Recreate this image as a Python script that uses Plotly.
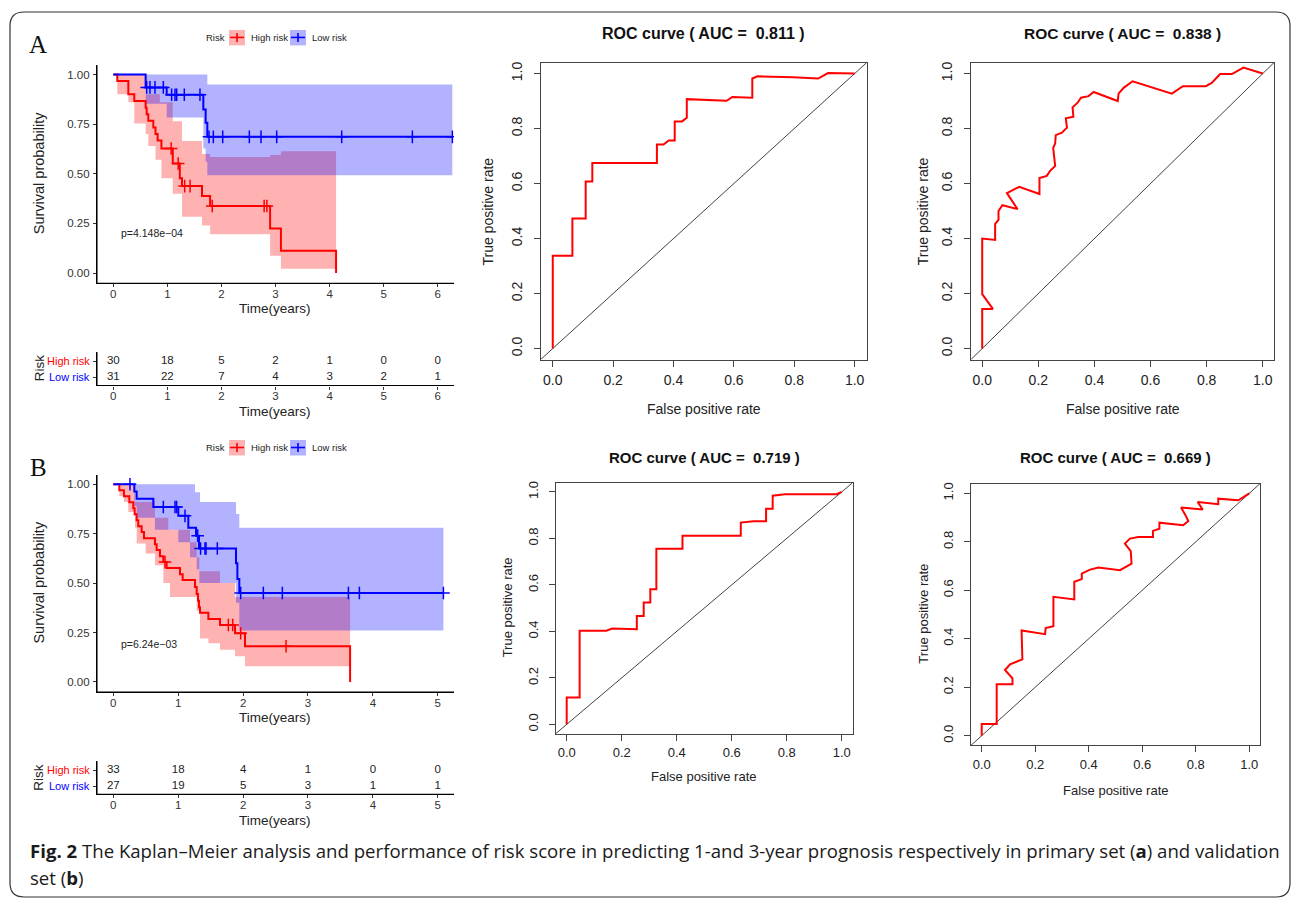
import plotly.graph_objects as go

W, H = 1292, 900

# ------------------------------------------------------------------ data
# Kaplan-Meier, primary set (A)
kmA_high_t = [0.074, 0.278, 0.388, 0.598, 0.617, 0.647, 0.74, 0.78, 0.82, 0.89, 1.10, 1.23, 1.27, 1.64, 1.79, 2.90, 3.10, 4.12]
kmA_high_s = [0.967, 0.90, 0.867, 0.833, 0.80, 0.767, 0.733, 0.70, 0.667, 0.627, 0.552, 0.477, 0.438, 0.388, 0.338, 0.224, 0.112, 0.0]
kmA_high_end = 4.12
kmA_high_cens = [1.07, 1.20, 1.32, 1.42, 1.83, 2.79, 2.84]
kmA_high_band_t = [0, 0.074, 0.278, 0.388, 0.598, 0.647, 0.78, 0.86, 0.89, 1.10, 1.27, 1.64, 1.79, 2.90, 3.10]
kmA_high_band_lo = [1.0, 0.90, 0.86, 0.753, 0.70, 0.64, 0.57, 0.57, 0.477, 0.40, 0.284, 0.24, 0.196, 0.087, 0.022]
kmA_high_band_hi = [1.0, 1.0, 1.0, 1.0, 0.90, 0.90, 0.90, 0.86, 0.86, 0.765, 0.665, 0.60, 0.585, 0.595, 0.614]

kmA_low_t = [0.598, 0.987, 1.665, 1.708, 1.739]
kmA_low_s = [0.935, 0.898, 0.824, 0.757, 0.686]
kmA_low_end = 6.27
kmA_low_cens = [0.617, 0.678, 0.771, 0.925, 1.079, 1.141, 1.172, 1.313, 1.603, 1.770, 1.850,
                2.023, 2.516, 2.732, 3.022, 4.224, 5.531, 6.271]
kmA_low_band_t = [0.598, 0.987, 1.665, 1.708, 1.739]
kmA_low_band_lo = [0.853, 0.783, 0.627, 0.56, 0.493]
kmA_low_band_hi = [1.0, 1.0, 1.0, 1.0, 0.95]

# Kaplan-Meier, validation set (B)
kmB_high_t = [0.093, 0.164, 0.247, 0.308, 0.329, 0.36, 0.385, 0.437, 0.473, 0.642, 0.668, 0.719, 0.771,
              0.822, 1.028, 1.069, 1.259, 1.285, 1.305, 1.321, 1.336, 1.465, 1.644, 1.876, 2.030, 3.649]
kmB_high_s = [0.970, 0.939, 0.909, 0.879, 0.848, 0.818, 0.788, 0.758, 0.727, 0.697, 0.667, 0.636, 0.606,
              0.576, 0.545, 0.515, 0.48, 0.445, 0.41, 0.378, 0.35, 0.318, 0.288, 0.246, 0.18, 0.0]
kmB_high_end = 3.649
kmB_high_cens = [0.797, 1.773, 1.840, 1.963, 2.662]
kmB_high_band_t = [0, 0.093, 0.164, 0.231, 0.334, 0.36, 0.498, 0.642, 0.771, 0.848, 0.874, 1.182, 1.285,
                   1.326, 1.336, 1.465, 1.644, 1.876, 2.030]
kmB_high_band_lo = [1.0, 0.94, 0.91, 0.86, 0.78, 0.70, 0.65, 0.59, 0.50, 0.50, 0.43, 0.43, 0.36,
                    0.36, 0.22, 0.196, 0.162, 0.13, 0.079]
kmB_high_band_hi = [1.0, 1.0, 1.0, 1.0, 0.91, 0.91, 0.91, 0.83, 0.83, 0.77, 0.77, 0.707, 0.63,
                    0.56, 0.56, 0.56, 0.50, 0.43, 0.43]

kmB_low_t = [0.324, 0.36, 0.617, 1.002, 1.156, 1.274, 1.321, 1.891, 1.912, 1.942]
kmB_low_s = [0.963, 0.926, 0.885, 0.84, 0.78, 0.74, 0.675, 0.60, 0.52, 0.45]
kmB_low_end = 5.087
kmB_low_cens = [0.257, 0.771, 0.951, 0.976, 1.105, 1.300, 1.345, 1.413, 1.429, 1.603, 1.963, 2.312,
                2.605, 3.623, 3.792, 5.087]
kmB_low_band_t = [0.324, 0.36, 0.642, 1.002, 1.182, 1.259, 1.285, 1.326, 1.336, 1.891, 1.942]
kmB_low_band_lo = [0.89, 0.83, 0.77, 0.707, 0.63, 0.63, 0.57, 0.50, 0.50, 0.40, 0.26]
kmB_low_band_hi = [1.0, 1.0, 1.0, 1.0, 1.0, 0.96, 0.96, 0.96, 0.91, 0.85, 0.78]

# Numbers at risk
riskA_times = [0, 1, 2, 3, 4, 5, 6]
riskA_high = [30, 18, 5, 2, 1, 0, 0]
riskA_low = [31, 22, 7, 4, 3, 2, 1]
riskB_times = [0, 1, 2, 3, 4, 5]
riskB_high = [33, 18, 4, 1, 0, 0]
riskB_low = [27, 19, 5, 3, 1, 1]
risk_labels = ["High risk", "Low risk"]

# ROC curves
roc1_auc = "0.811"
roc1_fpr = [0, 0, 0.065, 0.065, 0.109, 0.109, 0.131, 0.131, 0.345, 0.345, 0.367, 0.384, 0.404, 0.404,
            0.428, 0.444, 0.444, 0.576, 0.595, 0.661, 0.661, 0.678, 0.796, 0.879, 0.912, 1.0]
roc1_tpr = [0, 0.337, 0.337, 0.473, 0.473, 0.607, 0.607, 0.675, 0.675, 0.742, 0.742, 0.757, 0.757, 0.826,
            0.826, 0.839, 0.907, 0.901, 0.915, 0.912, 0.982, 0.99, 0.987, 0.982, 1.002, 1.0]

roc2_auc = "0.838"
roc2_fpr = [0, 0, 0.038, 0, 0, 0.046, 0.046, 0.058, 0.058, 0.072, 0.126, 0.088, 0.132, 0.204, 0.204,
            0.230, 0.242, 0.26, 0.253, 0.26, 0.262, 0.284, 0.302, 0.298, 0.325, 0.322, 0.34, 0.352,
            0.379, 0.397, 0.483, 0.486, 0.504, 0.536, 0.676, 0.715, 0.797, 0.818, 0.848, 0.89, 0.931, 1.0]
roc2_tpr = [0, 0.144, 0.144, 0.198, 0.40, 0.395, 0.453, 0.468, 0.50, 0.521, 0.507, 0.565, 0.588, 0.562,
            0.620, 0.628, 0.646, 0.664, 0.730, 0.746, 0.776, 0.785, 0.803, 0.837, 0.843, 0.877, 0.894,
            0.912, 0.918, 0.933, 0.90, 0.927, 0.948, 0.972, 0.927, 0.954, 0.954, 0.966, 0.998, 0.998,
            1.022, 1.0]

roc3_auc = "0.719"
roc3_fpr = [0, 0, 0.047, 0.047, 0.144, 0.165, 0.255, 0.255, 0.28, 0.28, 0.304, 0.304, 0.326, 0.326,
            0.421, 0.421, 0.633, 0.633, 0.679, 0.725, 0.725, 0.749, 0.749, 0.794, 0.982, 1.0]
roc3_tpr = [0, 0.116, 0.116, 0.403, 0.403, 0.412, 0.409, 0.466, 0.466, 0.524, 0.524, 0.581, 0.581,
            0.756, 0.756, 0.811, 0.811, 0.868, 0.874, 0.874, 0.928, 0.928, 0.984, 0.99, 0.99, 1.0]

roc4_auc = "0.669"
roc4_fpr = [0, 0, 0.056, 0.056, 0.115, 0.115, 0.087, 0.106, 0.152, 0.149, 0.237, 0.239, 0.268, 0.268,
            0.346, 0.346, 0.374, 0.374, 0.405, 0.436, 0.517, 0.56, 0.557, 0.535, 0.554, 0.585, 0.64,
            0.64, 0.664, 0.664, 0.753, 0.772, 0.762, 0.745, 0.826, 0.807, 0.884, 0.884, 0.959, 1.0]
roc4_tpr = [0, 0.048, 0.048, 0.212, 0.212, 0.236, 0.271, 0.294, 0.315, 0.434, 0.419, 0.444, 0.452, 0.573,
            0.562, 0.635, 0.646, 0.669, 0.685, 0.694, 0.683, 0.71, 0.761, 0.793, 0.813, 0.82, 0.82,
            0.845, 0.854, 0.879, 0.868, 0.886, 0.909, 0.941, 0.933, 0.964, 0.955, 0.978, 0.971, 1.0]

caption_line1 = ("<b>Fig. 2</b> The Kaplan–Meier analysis and performance of risk score in predicting "
                 "1-and 3-year prognosis respectively in primary set (<b>a</b>) and validation")
caption_line2 = "set (<b>b</b>)"

# ------------------------------------------------------------------ helpers
RED = "#FF0000"
BLUE = "#0000FF"
RED_FILL = "rgba(255,0,0,0.3)"
BLUE_FILL = "rgba(0,0,255,0.3)"
SANS = "Liberation Sans, Arial, sans-serif"


def px(x):
    return x / W


def py(y):
    return 1 - y / H


def ax_names(i):
    return ("xaxis" if i == 1 else f"xaxis{i}", "yaxis" if i == 1 else f"yaxis{i}",
            "x" if i == 1 else f"x{i}", "y" if i == 1 else f"y{i}")


def step_at(ts, ss, t):
    v = 1.0
    for ti, si in zip(ts, ss):
        if ti <= t:
            v = si
    return v


def band_poly(ts, lo, hi, end):
    xs, ys = [], []
    n = len(ts)
    for i in range(n):
        t1 = ts[i + 1] if i + 1 < n else end
        xs += [ts[i], t1]
        ys += [hi[i], hi[i]]
    for i in reversed(range(n)):
        t1 = ts[i + 1] if i + 1 < n else end
        xs += [t1, ts[i]]
        ys += [lo[i], lo[i]]
    return xs, ys


fig = go.Figure()
layout = dict(
    width=W, height=H, margin=dict(l=0, r=0, t=0, b=0),
    paper_bgcolor="white", plot_bgcolor="rgba(0,0,0,0)",
    showlegend=False, font=dict(family=SANS, color="#222"),
)
annotations = []
shapes = []


def ann(x, y, text, size, color="#222", xanchor="center", angle=0, family=SANS, yanchor="middle"):
    annotations.append(dict(x=px(x), y=py(y), xref="paper", yref="paper", text=text, showarrow=False,
                            xanchor=xanchor, yanchor=yanchor, textangle=angle,
                            font=dict(size=size, color=color, family=family)))


KM_AXIS = dict(showline=True, linecolor="black", linewidth=1.2, mirror=False, ticks="outside", ticklen=3,
               tickwidth=1.1, tickcolor="#333", showgrid=False, zeroline=False, layer="above traces",
               tickfont=dict(size=11.5, color="#333"))


def l_frame(xr_, yr_):
    # ggplot-style left and bottom axis lines along the panel edges
    shapes.append(dict(type="line", xref=f"{xr_} domain", yref=f"{yr_} domain", x0=0, x1=1, y0=0, y1=0,
                       line=dict(color="black", width=1.1)))
    shapes.append(dict(type="line", xref=f"{xr_} domain", yref=f"{yr_} domain", x0=0, x1=0, y0=0, y1=1,
                       line=dict(color="black", width=1.1)))


# ------------------------------------------------------------------ KM panels
def km_panel(i, dom_x, dom_y, xr, xmax, high, low, pval, pval_y, label, label_y, legend_y):
    xa, ya, xr_, yr_ = ax_names(i)
    layout[xa] = dict(domain=[px(dom_x[0]), px(dom_x[1])], range=xr, anchor=yr_,
                      tickvals=list(range(0, xmax + 1)), ticklabelstandoff=-3, **KM_AXIS)
    layout[ya] = dict(domain=[py(dom_y[1]), py(dom_y[0])], range=[-0.052, 1.047], anchor=xr_,
                      tickvals=[0, 0.25, 0.5, 0.75, 1.0], ticktext=["0.00", "0.25", "0.50", "0.75", "1.00"],
                      ticklabelstandoff=1, **KM_AXIS)
    l_frame(xr_, yr_)
    # bands
    for (ts, ss, end, cens, bt, blo, bhi), col, fill in zip([high, low], [RED, BLUE], [RED_FILL, BLUE_FILL]):
        bx, by = band_poly(bt, blo, bhi, end)
        fig.add_trace(go.Scatter(x=bx, y=by, xaxis=xr_, yaxis=yr_, fill="toself", fillcolor=fill,
                                 line=dict(width=0), mode="lines", hoverinfo="skip"))
    for (ts, ss, end, cens, bt, blo, bhi), col in zip([high, low], [RED, BLUE]):
        xs = [0] + list(ts)
        ys = [1.0] + list(ss)
        if end > ts[-1]:
            xs.append(end)
            ys.append(ss[-1])
        fig.add_trace(go.Scatter(x=xs, y=ys, xaxis=xr_, yaxis=yr_, mode="lines",
                                 line=dict(color=col, width=2, shape="hv")))
        fig.add_trace(go.Scatter(x=cens, y=[step_at(ts, ss, c) for c in cens], xaxis=xr_, yaxis=yr_,
                                 mode="markers",
                                 marker=dict(symbol="cross-thin", size=9, line=dict(color=col, width=1.5))))
    ann(119, pval_y, pval, 10.5, color="#222", xanchor="left")
    ann(39, (dom_y[0] + dom_y[1]) / 2 - 1, "Survival probability", 14.5, angle=-90)
    ann(275, dom_y[1] + 25, "Time(years)", 13.5)
    ann(38, label_y, label, 25, color="#111", family="Liberation Serif, DejaVu Serif, serif")
    # legend
    ann(215, legend_y, "Risk", 9.5, color="#222")
    for kx, col, fill, txt in [(229, RED, RED_FILL, "High risk"), (290, BLUE, BLUE_FILL, "Low risk")]:
        shapes.append(dict(type="rect", xref="paper", yref="paper", x0=px(kx), x1=px(kx + 16),
                           y0=py(legend_y + 8), y1=py(legend_y - 7.5), fillcolor=fill, line=dict(width=0)))
        shapes.append(dict(type="line", xref="paper", yref="paper", x0=px(kx + 1), x1=px(kx + 15),
                           y0=py(legend_y), y1=py(legend_y), line=dict(color=col, width=1.6)))
        shapes.append(dict(type="line", xref="paper", yref="paper", x0=px(kx + 8), x1=px(kx + 8),
                           y0=py(legend_y - 4.5), y1=py(legend_y + 4.5), line=dict(color=col, width=1.6)))
        ann(kx + 20, legend_y, txt, 9.5, color="#222", xanchor="left")


def risk_panel(i, dom_x, dom_y, xr, times, high, low, ylab_y):
    xa, ya, xr_, yr_ = ax_names(i)
    layout[xa] = dict(domain=[px(dom_x[0]), px(dom_x[1])], range=xr, anchor=yr_, tickvals=times,
                      ticklabelstandoff=-3, **KM_AXIS)
    layout[ya] = dict(domain=[py(dom_y[1]), py(dom_y[0])], range=[0.48, 2.56], anchor=xr_, tickvals=[1, 2],
                      showticklabels=False, **KM_AXIS)
    l_frame(xr_, yr_)
    fig.add_trace(go.Scatter(x=times, y=[2] * len(times), text=[str(v) for v in high], mode="text",
                             xaxis=xr_, yaxis=yr_, textfont=dict(size=11.5, color="#222")))
    fig.add_trace(go.Scatter(x=times, y=[1] * len(times), text=[str(v) for v in low], mode="text",
                             xaxis=xr_, yaxis=yr_, textfont=dict(size=11.5, color="#222")))
    rows_y = [dom_y[1] - 8.3 - 16, dom_y[1] - 8.3]
    ann(92, rows_y[0], risk_labels[0], 11, color=RED, xanchor="right")
    ann(92, rows_y[1], risk_labels[1], 11, color=BLUE, xanchor="right")
    ann(39, ylab_y, "Risk", 13.5, angle=-90)
    ann(275, dom_y[1] + 26, "Time(years)", 13.5)


km_panel(1, (97, 454), (63.3, 282), [-0.3015, 6.301], 6,
         (kmA_high_t, kmA_high_s, kmA_high_end, kmA_high_cens, kmA_high_band_t, kmA_high_band_lo, kmA_high_band_hi),
         (kmA_low_t, kmA_low_s, kmA_low_end, kmA_low_cens, kmA_low_band_t, kmA_low_band_lo, kmA_low_band_hi),
         "p=4.148e−04", 232, "A", 43, 35.5)
risk_panel(2, (97, 454), (351, 384.3), [-0.3015, 6.301], riskA_times, riskA_high, riskA_low, 367)

km_panel(3, (97, 454), (474, 691.7), [-0.251, 5.25], 5,
         (kmB_high_t, kmB_high_s, kmB_high_end, kmB_high_cens, kmB_high_band_t, kmB_high_band_lo, kmB_high_band_hi),
         (kmB_low_t, kmB_low_s, kmB_low_end, kmB_low_cens, kmB_low_band_t, kmB_low_band_lo, kmB_low_band_hi),
         "p=6.24e−03", 643, "B", 467, 446.5)
risk_panel(4, (97, 454), (761, 794), [-0.251, 5.25], riskB_times, riskB_high, riskB_low, 777.5)


# ------------------------------------------------------------------ ROC panels
def roc_panel(i, dom_x, dom_y, fpr, tpr, auc, title_y, xlab_y, ylab_x, ylab_y, fs, tfs, xstand):
    xa, ya, xr_, yr_ = ax_names(i)
    common = dict(range=[-0.04, 1.04], tickvals=[0, 0.2, 0.4, 0.6, 0.8, 1.0],
                  ticktext=["0.0", "0.2", "0.4", "0.6", "0.8", "1.0"], showline=True, mirror=True,
                  linecolor="#444", linewidth=1, ticks="outside", ticklen=6, tickcolor="#444",
                  showgrid=False, zeroline=False, tickfont=dict(size=fs, color="#222"))
    layout[xa] = dict(domain=[px(dom_x[0]), px(dom_x[1])], anchor=yr_, ticklabelstandoff=xstand, **common)
    layout[ya] = dict(domain=[py(dom_y[1]), py(dom_y[0])], anchor=xr_, tickangle=-90,
                      ticklabelstandoff=6, **common)
    fig.add_trace(go.Scatter(x=[-0.04, 1.04], y=[-0.04, 1.04], xaxis=xr_, yaxis=yr_, mode="lines",
                             line=dict(color="#111", width=0.8)))
    fig.add_trace(go.Scatter(x=fpr, y=tpr, xaxis=xr_, yaxis=yr_, mode="lines",
                             line=dict(color=RED, width=2)))
    cx = (dom_x[0] + dom_x[1]) / 2
    ann(cx, title_y, f"<b>ROC curve ( AUC =  {auc} )</b>", tfs, color="#111")
    ann(cx, xlab_y, "False positive rate", fs, color="#222")
    ann(ylab_x, ylab_y, "True positive rate", fs, color="#222", angle=-90)


roc_panel(5, (540.7, 866.7), (60.7, 358.3), roc1_fpr, roc1_tpr, roc1_auc, 32, 408, 488, 210, 14, 16, 2)
roc_panel(6, (971, 1274), (60.7, 358.3), roc2_fpr, roc2_tpr, roc2_auc, 32, 408, 922.7, 210, 14, 15.5, 2)
roc_panel(7, (555.7, 852.7), (481.7, 733.3), roc3_fpr, roc3_tpr, roc3_auc, 456.7, 776.7, 507, 606.7, 13, 15, 1)
roc_panel(8, (971, 1260), (482.7, 745), roc4_fpr, roc4_tpr, roc4_auc, 456.7, 790.7, 924, 613, 13, 15, 1)

# ------------------------------------------------------------------ caption and frame
CAP = "Open Sans, Noto Sans, sans-serif"
ann(28, 850, caption_line1, 18.6, color="#1a1a1a", xanchor="left", family=CAP)
ann(28, 877, caption_line2, 18.6, color="#1a1a1a", xanchor="left", family=CAP)

x0, x1, y0, y1, r = 10, 1290, 10, 897, 14
pts = [("M", x0 + r, y0), ("L", x1 - r, y0), ("Q", x1, y0, x1, y0 + r), ("L", x1, y1 - r),
       ("Q", x1, y1, x1 - r, y1), ("L", x0 + r, y1), ("Q", x0, y1, x0, y1 - r), ("L", x0, y0 + r),
       ("Q", x0, y0, x0 + r, y0)]
path = ""
for p in pts:
    cmd, coords = p[0], p[1:]
    s = []
    for k in range(0, len(coords), 2):
        s.append(f"{px(coords[k]):.5f},{py(coords[k + 1]):.5f}")
    path += cmd + " " + " ".join(s) + " "
path += "Z"
shapes.append(dict(type="path", xref="paper", yref="paper", path=path, line=dict(color="#333", width=1.2)))

layout["annotations"] = annotations
layout["shapes"] = shapes
fig.update_layout(**layout)
fig.write_html("out.html", config={"displayModeBar": False},
               post_script="document.body.style.margin='0px';")
